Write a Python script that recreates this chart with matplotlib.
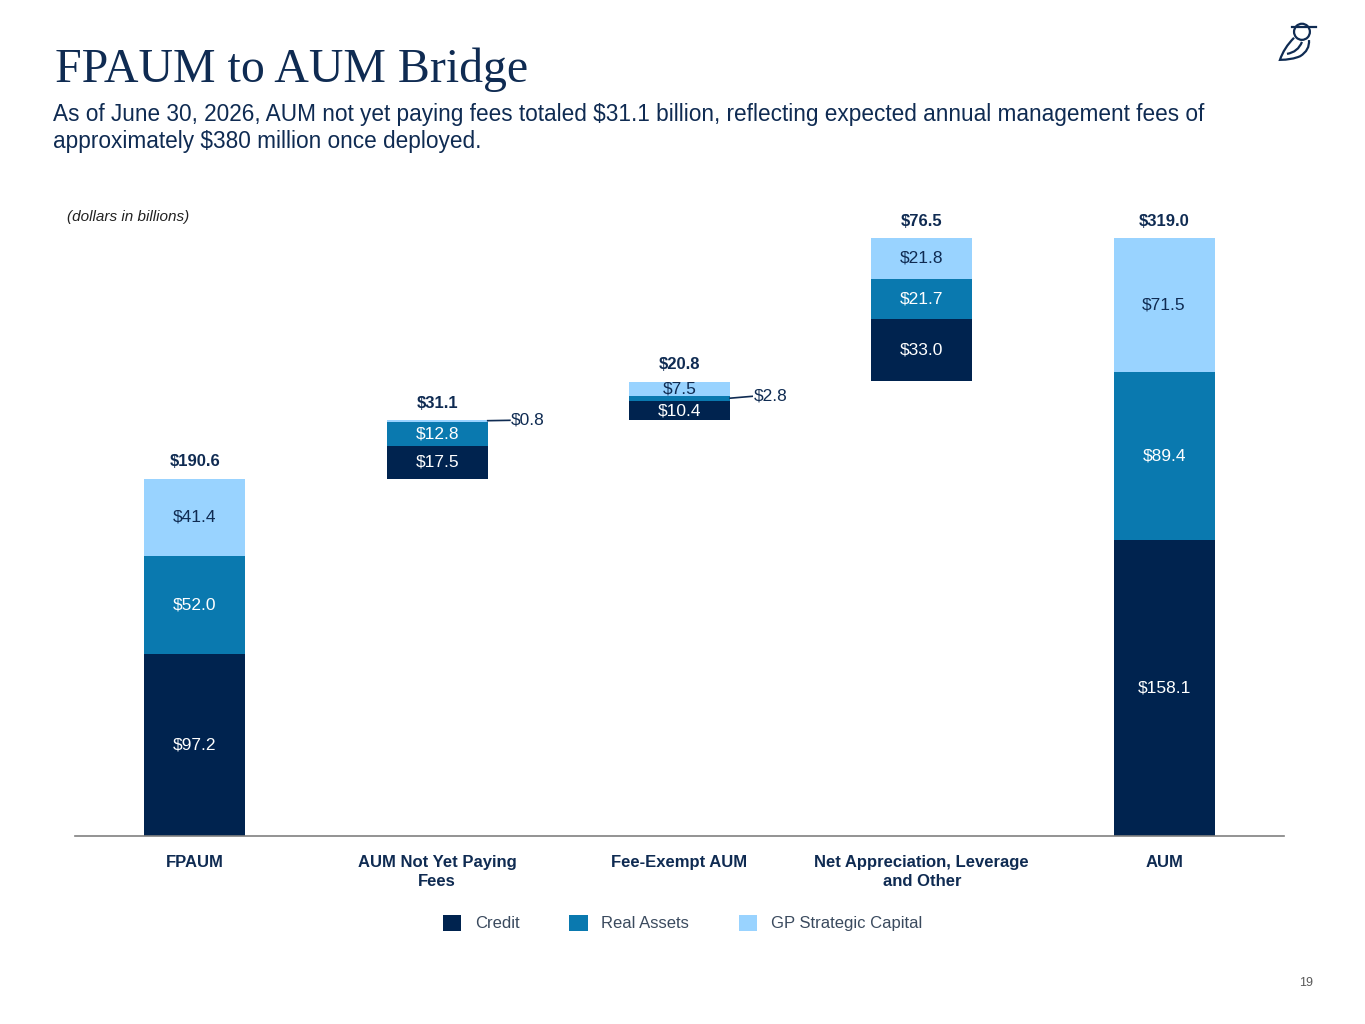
import matplotlib.pyplot as plt
from matplotlib.patches import Patch, Ellipse, PathPatch
from matplotlib.path import Path

plt.rcParams['font.family'] = ['Liberation Sans', 'DejaVu Sans']

categories = ['FPAUM', 'AUM Not Yet Paying\nFees', 'Fee-Exempt AUM',
              'Net Appreciation, Leverage\nand Other', 'AUM']
credit = [97.2, 17.5, 10.4, 33.0, 158.1]
real_assets = [52.0, 12.8, 2.8, 21.7, 89.4]
gp_capital = [41.4, 0.8, 7.5, 21.8, 71.5]
totals = [190.6, 31.1, 20.8, 76.5, 319.0]
series_names = ['Credit', 'Real Assets', 'GP Strategic Capital']

NAVY = '#00234F'
MID = '#0A79AF'
LIGHT = '#99D3FF'
TEXT = '#0F2B52'

# waterfall bases: first and last bars start at 0, middle ones float
bases = [0]
run = totals[0]
for t in totals[1:-1]:
    bases.append(run)
    run += t
bases.append(0)

fig = plt.figure(figsize=(13.65, 10.24), dpi=100)
ax = fig.add_axes([75 / 1365, 188 / 1024, 1209 / 1365, 340 * 1.875 / 1024])
ax.set_xlim(-0.495, 4.495)
ax.set_ylim(0, 340)

x = range(len(categories))
w = 0.417
colors = [NAVY, MID, LIGHT]
txtcol = ['white', 'white', TEXT]
for i in x:
    b = bases[i]
    for j, vals in enumerate([credit, real_assets, gp_capital]):
        v = vals[i]
        ax.bar(i, v, w, bottom=b, color=colors[j], linewidth=0)
        small = (i == 1 and j == 2) or (i == 2 and j == 1)
        if not small:
            ax.text(i, b + v / 2, '$%.1f' % v, ha='center', va='center',
                    color=txtcol[j], fontsize=12.5)
        b += v
    ax.text(i, bases[i] + totals[i] + 9, '$%.1f' % totals[i], ha='center',
            va='center', color=TEXT, fontsize=12, fontweight='bold')

# callouts for the thin segments
top1 = bases[1] + totals[1]
ax.plot([1 + w / 2, 1.3], [top1 - 0.2, top1], color=TEXT, lw=1.2)
ax.text(1.305, top1, '$%.1f' % gp_capital[1], ha='left', va='center',
        color=TEXT, fontsize=12.5)
mid2 = bases[2] + credit[2] + real_assets[2] / 2
ax.plot([2 + w / 2, 2.3], [mid2, mid2 + 1.0], color=TEXT, lw=1.2)
ax.text(2.305, mid2 + 1.0, '$%.1f' % real_assets[2], ha='left', va='center',
        color=TEXT, fontsize=12.5)

for s in ['top', 'right', 'left']:
    ax.spines[s].set_visible(False)
ax.spines['bottom'].set_color('#808080')
ax.spines['bottom'].set_linewidth(1.2)
ax.set_yticks([])
ax.set_xticks(list(x))
ax.set_xticklabels(categories, fontsize=12, fontweight='bold', color=TEXT,
                   linespacing=1.3, va='top')
ax.tick_params(axis='x', length=0, pad=14)

handles = [Patch(facecolor=c, edgecolor='none') for c in colors]
fig.legend(handles, series_names, loc='center', bbox_to_anchor=(0.5, 0.0986),
           ncol=3, frameon=False, fontsize=12, handlelength=1.1,
           handleheight=1.1, handletextpad=0.8, columnspacing=3.0,
           labelcolor='#3A4A5E')

fig.text(55 / 1365, 1 - 70 / 1024, 'FPAUM to AUM Bridge', fontsize=34.5,
         family=['Liberation Serif', 'DejaVu Serif'], color=TEXT, va='center')
fig.text(53 / 1365, 1 - 128 / 1024,
         'As of June 30, 2026, AUM not yet paying fees totaled $31.1 billion, '
         'reflecting expected annual management fees of\n'
         'approximately $380 million once deployed.',
         fontsize=16.3, color=TEXT, va='center', linespacing=1.2)
fig.text(67 / 1365, 1 - 217 / 1024, '(dollars in billions)', fontsize=11,
         style='italic', color='#222222', va='center')
fig.text(1306 / 1365, 1 - 983 / 1024, '19', fontsize=9, color='#595959',
         ha='center', va='center')

# small owl mark, top right
lg = fig.add_axes([1276 / 1365, 1 - 64 / 1024, 44 / 1365, 46 / 1024])
lg.set_xlim(0, 1)
lg.set_ylim(0, 1)
lg.axis('off')
lg.add_patch(Ellipse((0.59, 0.70), 0.36, 0.35, fill=False, ec=TEXT, lw=1.6))
lg.plot([0.36, 0.9], [0.80, 0.80], color=TEXT, lw=1.6)
body = Path([(0.41, 0.57), (0.18, 0.35), (0.09, 0.09), (0.36, 0.09),
             (0.55, 0.17), (0.77, 0.30), (0.75, 0.52)],
            [Path.MOVETO, Path.CURVE3, Path.CURVE3, Path.CURVE3, Path.CURVE3,
             Path.CURVE3, Path.CURVE3])
lg.add_patch(PathPatch(body, fill=False, ec=TEXT, lw=1.6))
wing = Path([(0.25, 0.22), (0.5, 0.26), (0.59, 0.48)],
            [Path.MOVETO, Path.CURVE3, Path.CURVE3])
lg.add_patch(PathPatch(wing, fill=False, ec=TEXT, lw=1.6))

plt.savefig('out.png', dpi=100)
